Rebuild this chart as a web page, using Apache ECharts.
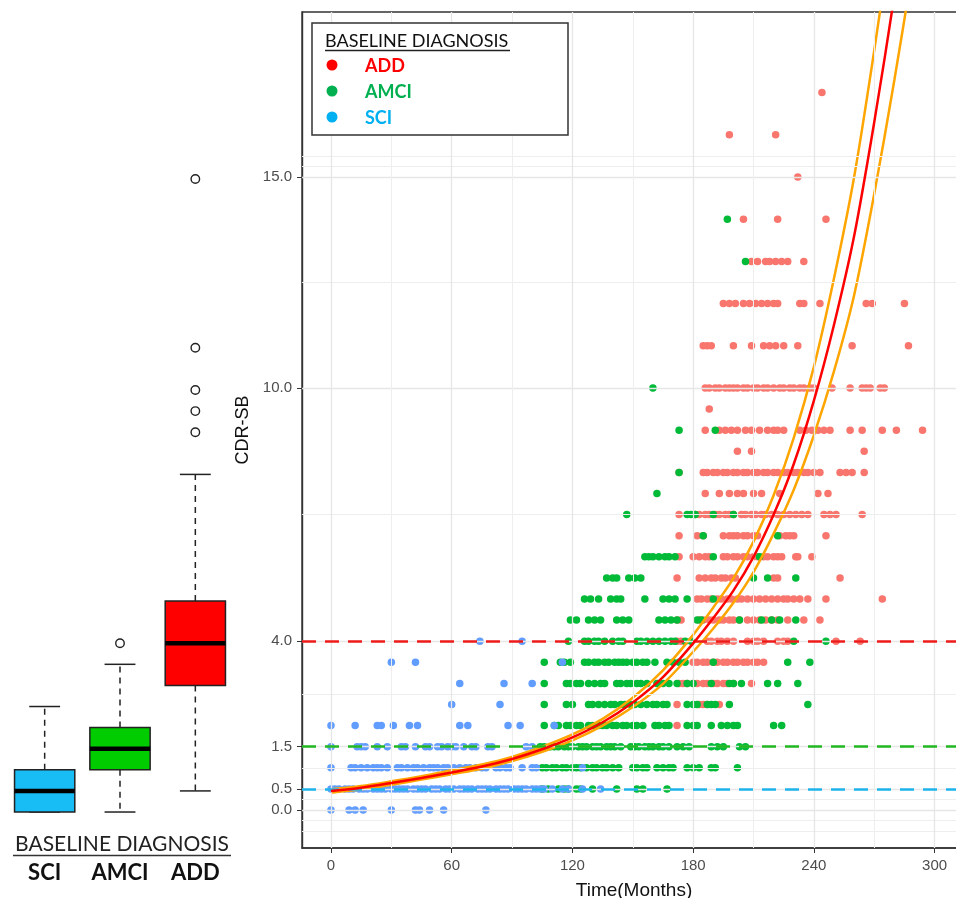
<!DOCTYPE html>
<html>
<head>
<meta charset="utf-8">
<title>CDR-SB over time by baseline diagnosis</title>
<script src="https://cdn.jsdelivr.net/npm/echarts@6/dist/echarts.min.js"></script>
<style>
  html, body { margin: 0; padding: 0; background: #fff; }
  #chart { width: 956px; height: 898px; }
</style>
</head>
<body>
<div id="chart"></div>
<script>
  // axis ticks and gridlines
  const xTicks = [0, 60, 120, 180, 240, 300];
  const xMinorGrid = [30, 90, 150, 210, 270];
  const yTicks = [0, 0.5, 1.5, 4, 10, 15];
  const yMinorGrid = [-0.5, -0.25, 0.25, 1, 2.75, 7, 12.5, 15.25, 15.5];

  // diagnostic cut-offs (ADD, AMCI, SCI)
  const cutoffValues = [4.0, 1.5, 0.5];

  // SCI points: one list of months per CDR-SB level
  const sciLevels = [0, 0.5, 1, 1.5, 2, 2.5, 3, 3.5, 4];
  const sciTimes = [
    [0, 9, 12, 16, 30, 42, 44, 49, 56, 77],
    [0, 2, 4, 7, 9, 11, 14, 16, 18, 21, 23, 25, 27, 30, 32, 34, 36, 38, 41, 43, 45, 47, 50, 52, 54, 57, 59, 61, 64, 66, 68, 70, 73, 75, 77, 79, 82, 84, 86, 88, 91, 93, 95, 97, 100, 102, 104, 106, 110, 115, 118, 125, 134],
    [0, 10, 12, 15, 18, 21, 23, 25, 28, 33, 35, 38, 41, 43, 46, 49, 51, 53, 56, 58, 61, 64, 67, 69, 72, 75, 77, 82, 84, 87, 89, 95, 100, 102, 125],
    [0, 13, 15, 17, 23, 28, 35, 37, 42, 47, 49, 53, 55, 58, 60, 62, 66, 70, 72, 78, 80, 97, 100],
    [0, 12, 23, 25, 31, 39, 43, 64, 68, 88, 94, 111],
    [60, 84],
    [64, 86, 100],
    [30, 42, 115],
    [74, 95]
  ];

  // AMCI points
  const amciLevels = [0.5, 1, 1.5, 2, 2.5, 3, 3.5, 4, 4.5, 5, 5.5, 6, 6.5, 7, 7.5, 8, 9, 10, 13, 14];
  const amciTimes = [
    [105, 108, 113, 116, 118, 122, 124, 130, 142, 152, 155, 167],
    [105, 107, 110, 112, 115, 117, 120, 122, 124, 127, 130, 132, 135, 137, 140, 143, 150, 152, 155, 157, 162, 165, 168, 170, 177, 180, 183, 189, 191, 202],
    [104, 106, 109, 111, 113, 116, 118, 120, 123, 125, 127, 130, 132, 134, 137, 139, 141, 144, 149, 151, 153, 156, 158, 160, 163, 165, 168, 172, 175, 178, 189, 192, 195, 203, 206],
    [106, 111, 113, 117, 119, 122, 124, 128, 130, 133, 135, 137, 140, 142, 145, 147, 150, 152, 155, 161, 163, 166, 168, 177, 180, 182, 189, 194, 197, 200, 202, 220, 224],
    [106, 117, 120, 128, 130, 133, 136, 139, 141, 144, 146, 149, 151, 154, 157, 160, 162, 165, 167, 177, 180, 182, 187, 189, 191, 198, 237],
    [106, 117, 119, 122, 124, 128, 131, 134, 136, 142, 144, 147, 149, 152, 154, 157, 162, 165, 168, 172, 177, 180, 189, 198, 200, 204, 217, 222, 232],
    [106, 114, 116, 119, 126, 128, 131, 133, 136, 138, 141, 143, 145, 147, 150, 152, 155, 157, 161, 167, 170, 173, 176, 190, 227, 238],
    [118, 126, 128, 131, 133, 136, 140, 143, 145, 152, 154, 157, 160, 163, 166, 169, 171, 176, 179, 230, 246],
    [119, 122, 128, 131, 134, 142, 145, 148, 163, 166, 169, 172, 182, 184, 203, 214, 219, 223, 231],
    [126, 129, 133, 139, 142, 144, 156, 165, 168, 171, 177, 190],
    [137, 140, 142, 148, 151, 154, 210, 217, 231],
    [156, 158, 160, 163, 166, 168, 171, 190, 213],
    [185, 222],
    [147, 177, 179, 181, 190, 200],
    [162],
    [173],
    [173, 191],
    [160],
    [206],
    [197]
  ];

  // ADD points
  const addLevels = [2, 2.5, 3, 3.5, 4, 4.5, 5, 5.5, 6, 6.5, 7, 7.5, 8, 8.5, 9, 9.5, 10, 11, 12, 13, 14, 15, 16, 17];
  const addTimes = [
    [172],
    [172, 183, 185, 187, 193],
    [173, 175, 177, 180, 182, 185, 187, 190, 192, 195, 197, 200, 209],
    [180, 182, 185, 187, 190, 192, 195, 197, 200, 202, 205, 207, 210, 212, 215],
    [172, 174, 187, 189, 192, 194, 197, 200, 207, 210, 212, 215, 222, 225, 227, 251, 263],
    [172, 174, 183, 185, 188, 190, 193, 195, 198, 200, 203, 207, 210, 213, 216, 219, 222, 227, 235, 243],
    [182, 184, 187, 189, 192, 194, 197, 199, 202, 204, 207, 210, 213, 216, 219, 222, 225, 227, 230, 233, 237, 246, 274],
    [172, 183, 186, 189, 191, 194, 196, 199, 201, 220, 222, 253],
    [173, 180, 183, 186, 188, 195, 197, 200, 202, 205, 207, 210, 212, 215, 217, 220, 222, 224, 231, 232, 239],
    [173, 182, 185, 195, 198, 200, 202, 205, 207, 210, 212, 223, 226, 228, 230, 246],
    [173, 181, 183, 186, 188, 191, 193, 196, 198, 200, 204, 206, 209, 211, 214, 216, 219, 222, 225, 228, 231, 234, 237, 245, 248, 251, 264],
    [186, 193, 198, 202, 205, 210, 214, 223, 242, 247],
    [173, 185, 187, 190, 192, 195, 197, 200, 202, 205, 207, 210, 212, 215, 217, 220, 222, 225, 227, 230, 232, 235, 237, 240, 243, 253, 256, 259, 265],
    [202, 209, 265],
    [186, 193, 196, 199, 202, 206, 209, 213, 217, 220, 222, 225, 233, 236, 239, 242, 245, 248, 258, 264, 274, 281, 294],
    [188],
    [186, 188, 191, 193, 196, 198, 200, 202, 205, 207, 210, 212, 215, 217, 220, 223, 225, 228, 230, 233, 235, 238, 240, 249, 258, 264, 266, 268, 273, 275],
    [185, 187, 189, 200, 209, 215, 218, 221, 225, 232, 259, 287],
    [195, 198, 201, 205, 208, 211, 214, 217, 220, 222, 233, 235, 243, 266, 269, 285],
    [209, 212, 216, 218, 221, 224, 227, 235],
    [205, 222, 246],
    [232],
    [198, 221],
    [244]
  ];

  // fitted trajectory and its band
  const curveTime = [0, 15, 30, 45, 60, 75, 90, 105, 120, 135, 150, 165, 180, 190, 200, 210, 220, 230, 240, 250, 260, 270, 280, 290];
  const curveMid = [0.45, 0.53, 0.64, 0.76, 0.89, 1.03, 1.21, 1.44, 1.72, 2.08, 2.55, 3.15, 3.95, 4.55, 5.2, 6.0, 7.0, 8.2, 9.7, 11.5, 13.6, 16.3, 19.3, 22.6];
  const curveUpper = [0.49, 0.57, 0.68, 0.80, 0.94, 1.08, 1.26, 1.50, 1.79, 2.16, 2.66, 3.31, 4.15, 4.80, 5.49, 6.36, 7.46, 8.82, 10.5, 12.6, 15.0, 18.0, 21.3, 25.0];
  const curveLower = [0.41, 0.49, 0.60, 0.72, 0.85, 0.98, 1.16, 1.38, 1.65, 2.00, 2.44, 2.99, 3.75, 4.30, 4.91, 5.64, 6.55, 7.59, 8.88, 10.4, 12.2, 14.6, 17.3, 20.2];

  // baseline boxplots: [min, Q1, median, Q3, max]
  const boxCategories = ['SCI', 'AMCI', 'ADD'];
  const boxStats = [
    [0, 0, 0.5, 1, 2.5],
    [0, 1, 1.5, 2, 3.5],
    [0.5, 3, 4, 5, 8]
  ];
  const boxOutliers = [[1, 4], [2, 9], [2, 9.5], [2, 10], [2, 11], [2, 15]];

  const legendNames = ['ADD', 'AMCI', 'SCI'];

  const toPoints = (levels, times) => levels.flatMap((lv, i) => times[i].map(t => [t, lv]));
  const pairs = (xs, ys) => xs.map((x, i) => [x, ys[i]]);

  const boxColors = ['#19bdf5', '#00cc00', '#ff0000'];
  const cutoffColors = ['#ee1b1b', '#22b822', '#1cb4ea'];
  const legendColors = ['#ff0000', '#00b050', '#00b0f0'];
  const labelFont = 'Liberation Sans, Arial, sans-serif';

  function renderBox(params, api) {
    const idx = api.value(0);
    const lo = api.coord([idx, api.value(1)]);
    const q1 = api.coord([idx, api.value(2)]);
    const med = api.coord([idx, api.value(3)]);
    const q3 = api.coord([idx, api.value(4)]);
    const hi = api.coord([idx, api.value(5)]);
    const band = api.size([1, 0])[0];
    const half = band * 0.4;
    const cap = band * 0.205;
    const cx = lo[0];
    const dash = { stroke: '#222', lineWidth: 1.5, lineDash: [6, 5] };
    const solid = { stroke: '#222', lineWidth: 1.5 };
    return {
      type: 'group',
      children: [
        { type: 'line', shape: { x1: cx, y1: q3[1], x2: cx, y2: hi[1] }, style: dash },
        { type: 'line', shape: { x1: cx, y1: q1[1], x2: cx, y2: lo[1] }, style: dash },
        { type: 'line', shape: { x1: cx - cap, y1: hi[1], x2: cx + cap, y2: hi[1] }, style: solid },
        { type: 'line', shape: { x1: cx - cap, y1: lo[1], x2: cx + cap, y2: lo[1] }, style: solid },
        { type: 'rect', shape: { x: cx - half, y: q3[1], width: half * 2, height: q1[1] - q3[1] },
          style: { fill: boxColors[idx], stroke: '#222', lineWidth: 1.5 } },
        { type: 'line', shape: { x1: cx - half, y1: med[1], x2: cx + half, y2: med[1] },
          style: { stroke: '#000', lineWidth: 4.5 } }
      ]
    };
  }

  const gridLines = [
    ...yTicks.map(v => ({ yAxis: v, lineStyle: { color: '#e6e6e6', width: 1.3 } })),
    ...yMinorGrid.map(v => ({ yAxis: v, lineStyle: { color: '#eeeeee', width: 1 } })),
    ...xTicks.map(v => ({ xAxis: v, lineStyle: { color: '#e6e6e6', width: 1.3 } })),
    ...xMinorGrid.map(v => ({ xAxis: v, lineStyle: { color: '#eeeeee', width: 1 } }))
  ];

  const legendGraphics = [
    { type: 'rect', z: 100, shape: { x: 312, y: 23, width: 256, height: 112 },
      style: { fill: '#fff', stroke: '#333', lineWidth: 1.5 } },
    { type: 'text', z: 101, x: 325, y: 41,
      style: { text: 'BASELINE DIAGNOSIS', fill: '#111', fontSize: 18, fontFamily: 'Lato', verticalAlign: 'middle' } },
    { type: 'line', z: 101, shape: { x1: 325, y1: 50.5, x2: 510, y2: 50.5 }, style: { stroke: '#222', lineWidth: 1.3 } }
  ];
  legendNames.forEach((name, i) => {
    legendGraphics.push(
      { type: 'circle', z: 101, shape: { cx: 332, cy: 65 + i * 26, r: 5.5 }, style: { fill: legendColors[i] } },
      { type: 'text', z: 101, x: 365, y: 66 + i * 26,
        style: { text: name, fill: legendColors[i], fontSize: 18, fontWeight: 'bold', fontFamily: 'Lato', verticalAlign: 'middle' } }
    );
  });
  const boxTitle = [
    { type: 'text', x: 122, y: 844,
      style: { text: 'BASELINE DIAGNOSIS', fill: '#222', fontSize: 21, fontFamily: 'Lato', align: 'center', verticalAlign: 'middle' } },
    { type: 'line', shape: { x1: 13, y1: 855.5, x2: 231, y2: 855.5 }, style: { stroke: '#333', lineWidth: 1.4 } }
  ];

  const chart = echarts.init(document.getElementById('chart'));
  chart.setOption({
    animation: false,
    backgroundColor: '#fff',
    grid: [
      { left: 302, top: 12, right: -10, height: 836, show: true, borderColor: '#333', borderWidth: 1.4,
        containLabel: false, outerBoundsMode: 'none' },
      { left: 7, top: 14, width: 226, height: 836, containLabel: false, outerBoundsMode: 'none' }
    ],
    xAxis: [
      {
        gridIndex: 0, type: 'value', min: -14.4, max: 315.6,
        axisLine: { show: true, onZero: false, lineStyle: { color: '#333', width: 1.5 } },
        axisTick: { show: true, customValues: xTicks, length: 5, lineStyle: { color: '#333' } },
        axisLabel: { customValues: xTicks, color: '#4d4d4d', fontSize: 15, fontFamily: labelFont, margin: 10 },
        splitLine: { show: false },
        name: 'Time(Months)', nameLocation: 'middle', nameGap: 33,
        nameTextStyle: { color: '#111', fontSize: 19, fontFamily: labelFont }
      },
      {
        gridIndex: 1, type: 'category', data: boxCategories, boundaryGap: true,
        axisLine: { show: false }, axisTick: { show: false }, splitLine: { show: false },
        axisLabel: { color: '#111', fontSize: 22, fontWeight: 'bold', fontFamily: 'Lato', margin: 12 }
      }
    ],
    yAxis: [
      {
        gridIndex: 0, type: 'value', min: -0.9, max: 18.91,
        axisLine: { show: true, onZero: false, lineStyle: { color: '#333', width: 1.4 } },
        axisTick: { show: true, customValues: yTicks, length: 5, lineStyle: { color: '#333' } },
        axisLabel: { customValues: yTicks, formatter: v => v.toFixed(1), color: '#4d4d4d', fontSize: 15, fontFamily: labelFont, margin: 10 },
        splitLine: { show: false },
        name: 'CDR-SB', nameLocation: 'middle', nameGap: 47,
        nameTextStyle: { color: '#111', fontSize: 18, fontFamily: labelFont }
      },
      { gridIndex: 1, type: 'value', min: -0.9, max: 18.91, show: false }
    ],
    series: [
      {
        name: 'grid', type: 'scatter', data: [], z: 1, silent: true,
        markLine: { silent: true, symbol: 'none', label: { show: false }, lineStyle: { type: 'solid' }, data: gridLines }
      },
      {
        name: 'ADD', type: 'scatter', data: toPoints(addLevels, addTimes), z: 2,
        symbolSize: 7.5, itemStyle: { color: '#F8766D', opacity: 1 }
      },
      {
        name: 'AMCI', type: 'scatter', data: toPoints(amciLevels, amciTimes), z: 2,
        symbolSize: 7.5, itemStyle: { color: '#00BA38', opacity: 1 }
      },
      {
        name: 'SCI', type: 'scatter', data: toPoints(sciLevels, sciTimes), z: 2,
        symbolSize: 7.5, itemStyle: { color: '#619CFF', opacity: 1 }
      },
      {
        name: 'cutoffs', type: 'scatter', data: [], z: 3, silent: true,
        markLine: {
          silent: true, symbol: 'none', label: { show: false },
          lineStyle: { type: [14, 9], width: 2.5 },
          data: cutoffValues.map((v, i) => ({ yAxis: v, lineStyle: { color: cutoffColors[i] } }))
        }
      },
      {
        name: 'upper', type: 'line', data: pairs(curveTime, curveUpper), z: 4, smooth: 0.3,
        showSymbol: false, lineStyle: { color: '#FFA500', width: 2.5 }
      },
      {
        name: 'lower', type: 'line', data: pairs(curveTime, curveLower), z: 4, smooth: 0.3,
        showSymbol: false, lineStyle: { color: '#FFA500', width: 2.5 }
      },
      {
        name: 'fit', type: 'line', data: pairs(curveTime, curveMid), z: 5, smooth: 0.3,
        showSymbol: false, lineStyle: { color: '#FF0000', width: 2.5 }
      },
      {
        name: 'box', type: 'custom', xAxisIndex: 1, yAxisIndex: 1, renderItem: renderBox,
        encode: { x: 0, y: [1, 2, 3, 4, 5] },
        data: boxStats.map((s, i) => [i, ...s])
      },
      {
        name: 'outliers', type: 'scatter', xAxisIndex: 1, yAxisIndex: 1, data: boxOutliers,
        symbol: 'circle', symbolSize: 8.5,
        itemStyle: { color: '#fff', borderColor: '#222', borderWidth: 1.4, opacity: 1 }
      }
    ],
    graphic: [...legendGraphics, ...boxTitle]
  });
</script>
</body>
</html>
